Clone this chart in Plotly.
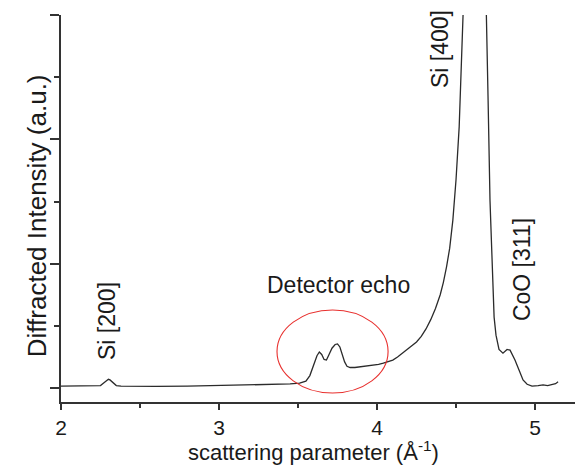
import plotly.graph_objects as go

# Diffraction profile: scattering parameter q (1/Å) vs intensity (arbitrary units)
q = [2.00, 2.10, 2.20, 2.25, 2.27, 2.29, 2.30, 2.31, 2.33, 2.35, 2.38, 2.45,
     2.60, 2.80, 3.00, 3.20, 3.35, 3.45, 3.51, 3.55, 3.575, 3.60, 3.62, 3.635,
     3.65, 3.665, 3.68, 3.695, 3.715, 3.735, 3.75, 3.765, 3.78, 3.795, 3.81,
     3.83, 3.86, 3.89, 3.92, 3.95, 3.98, 4.01, 4.04, 4.07, 4.10, 4.13, 4.16,
     4.19, 4.22, 4.25, 4.28, 4.31, 4.34, 4.37, 4.40, 4.42, 4.44, 4.46, 4.48,
     4.50, 4.52, 4.535, 4.55, 4.58, 4.62, 4.66, 4.69, 4.703, 4.715, 4.728,
     4.741, 4.753, 4.772, 4.797, 4.823, 4.842, 4.873, 4.90, 4.924, 4.95, 4.981,
     5.02, 5.051, 5.08, 5.108, 5.13, 5.146]
intensity = [0.03, 0.03, 0.03, 0.04, 0.08, 0.13, 0.14, 0.13, 0.08, 0.04, 0.03, 0.025,
             0.025, 0.03, 0.04, 0.05, 0.055, 0.065, 0.08, 0.11, 0.20, 0.36, 0.52, 0.58,
             0.54, 0.46, 0.45, 0.53, 0.64, 0.70, 0.71, 0.66, 0.54, 0.42, 0.35,
             0.33, 0.33, 0.34, 0.35, 0.355, 0.37, 0.38, 0.40, 0.42, 0.45, 0.50, 0.56,
             0.61, 0.68, 0.74, 0.83, 0.95, 1.10, 1.28, 1.50, 1.70, 1.95, 2.25, 2.70,
             3.35, 4.20, 5.10, 6.40, 10.0, 25.0, 10.0, 6.50, 4.63, 3.02, 1.95,
             1.14, 0.85, 0.62, 0.56, 0.62, 0.61, 0.45, 0.28, 0.13, 0.06, 0.03,
             0.04, 0.05, 0.04, 0.05, 0.07, 0.10]

# Peak labels, placed at (q, intensity)
peak_labels = ["Si [200]", "Si [400]", "CoO [311]"]
peak_q = [2.291, 4.399, 4.918]
peak_y = [1.078, 5.453, 1.898]

echo_label = "Detector echo"
echo_q, echo_y = 3.759, 1.657
# Ellipse around the echo peaks (q range, intensity range)
echo_q_range = [3.367, 4.07]
echo_y_range = [-0.08, 1.255]

x_title = "scattering parameter (Å<sup>-1</sup>)"
y_title = "Diffracted Intensity (a.u.)"

FONT = "Liberation Sans, Arial, sans-serif"
INK = "#1a1a1a"
AXIS = "#333333"

fig = go.Figure()
fig.add_trace(go.Scatter(
    x=q, y=intensity, mode="lines",
    line=dict(color="#2b2b2b", width=1.3),
    hoverinfo="skip", showlegend=False,
))

fig.add_shape(
    type="circle", xref="x", yref="y",
    x0=echo_q_range[0], x1=echo_q_range[1],
    y0=echo_y_range[0], y1=echo_y_range[1],
    line=dict(color="#e8302e", width=1.1),
)

for text, xq, yv in zip(peak_labels, peak_q, peak_y):
    fig.add_annotation(x=xq, y=yv, text=text, showarrow=False, textangle=-90,
                       font=dict(family=FONT, size=23, color=INK),
                       xanchor="center", yanchor="middle")

fig.add_annotation(x=echo_q, y=echo_y, text=echo_label, showarrow=False,
                   font=dict(family=FONT, size=23, color=INK),
                   xanchor="center", yanchor="middle")

# Axis titles
fig.add_annotation(xref="paper", yref="paper", x=0.492, y=0, yshift=-49,
                   text=x_title, showarrow=False,
                   font=dict(family=FONT, size=22, color=INK),
                   xanchor="center", yanchor="middle")
fig.add_annotation(xref="paper", yref="paper", x=0, y=0.48, xshift=-24,
                   text=y_title, showarrow=False, textangle=-90,
                   font=dict(family=FONT, size=26, color=INK),
                   xanchor="center", yanchor="middle")

fig.update_xaxes(
    range=[2, 5.253], showgrid=False, zeroline=False,
    showline=True, linecolor=AXIS, linewidth=1.5,
    ticks="outside", tickcolor=AXIS, tickwidth=1.5, ticklen=6,
    tick0=2, dtick=1,
    tickfont=dict(family=FONT, size=21, color=INK),
    minor=dict(ticks="outside", dtick=0.5, tick0=2, ticklen=4,
               tickcolor=AXIS, tickwidth=1.5, showgrid=False),
)
fig.update_yaxes(
    range=[-0.225, 6.0], showgrid=False, zeroline=False,
    showline=True, linecolor=AXIS, linewidth=1.5,
    ticks="outside", tickcolor=AXIS, tickwidth=1.5, ticklen=9,
    tick0=0, dtick=2, showticklabels=False,
    minor=dict(ticks="outside", dtick=1, tick0=0, ticklen=5,
               tickcolor=AXIS, tickwidth=1.5, showgrid=False),
)

fig.update_layout(
    width=575, height=467,
    margin=dict(l=61, r=0, t=15, b=65),
    paper_bgcolor="white", plot_bgcolor="white",
    font=dict(family=FONT, color=INK),
    showlegend=False,
)

fig.write_html("out.html")
